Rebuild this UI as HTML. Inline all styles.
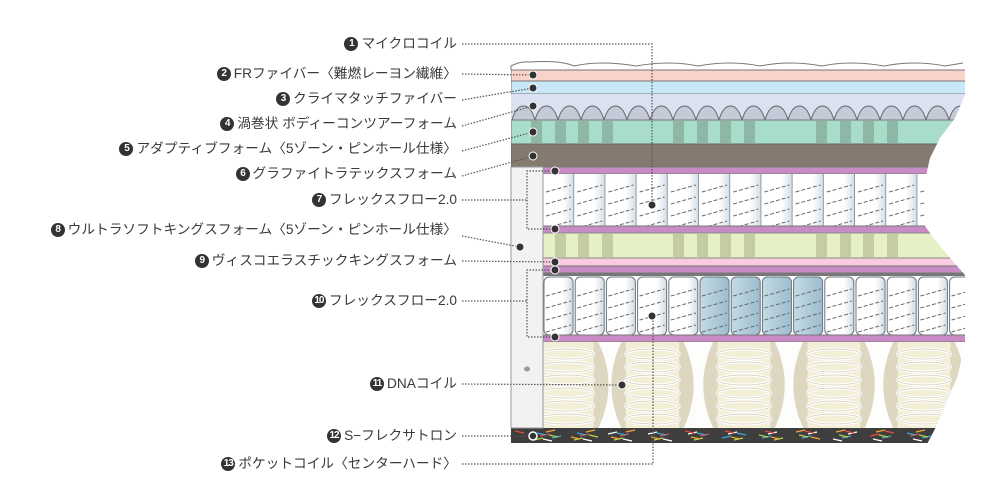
<!DOCTYPE html>
<html><head><meta charset="utf-8"><style>
html,body{margin:0;padding:0;background:#fff;}
body{width:1000px;height:500px;overflow:hidden;position:relative;font-family:"Liberation Sans","Noto Sans CJK JP",sans-serif;}
.l{position:absolute;right:543px;font-size:13.7px;color:#3a3a3a;white-space:nowrap;height:16px;line-height:16px;display:flex;align-items:center;}
.n{display:inline-block;width:14px;height:14px;border-radius:50%;background:#333;color:#fff;font-size:10px;line-height:14px;text-align:center;font-weight:bold;margin-right:3px;letter-spacing:-1px;flex:none;}
svg{position:absolute;left:0;top:0;}
</style></head><body>
<svg id="s" width="1000" height="500" viewBox="0 0 1000 500"></svg>
<div class="l" style="top:36px"><span class="n">1</span>マイクロコイル</div>
<div class="l" style="top:66px"><span class="n">2</span>FRファイバー〈難燃レーヨン繊維〉</div>
<div class="l" style="top:91px"><span class="n">3</span>クライマタッチファイバー</div>
<div class="l" style="top:116px"><span class="n">4</span>渦巻状 ボディーコンツアーフォーム</div>
<div class="l" style="top:141px"><span class="n">5</span>アダプティブフォーム〈5ゾーン・ピンホール仕様〉</div>
<div class="l" style="top:166px"><span class="n">6</span>グラファイトラテックスフォーム</div>
<div class="l" style="top:192px"><span class="n">7</span>フレックスフロー2.0</div>
<div class="l" style="top:222px"><span class="n">8</span>ウルトラソフトキングスフォーム〈5ゾーン・ピンホール仕様〉</div>
<div class="l" style="top:253px"><span class="n">9</span>ヴィスコエラスチックキングスフォーム</div>
<div class="l" style="top:293px"><span class="n">10</span>フレックスフロー2.0</div>
<div class="l" style="top:376px"><span class="n">11</span>DNAコイル</div>
<div class="l" style="top:428px"><span class="n">12</span>S−フレクサトロン</div>
<div class="l" style="top:456px"><span class="n">13</span>ポケットコイル〈センターハード〉</div>
<script>
var s=document.getElementById('s'),h='';
h+='<defs><clipPath id="c"><path d="M511,55 L965,55 L965,95 L955,118 L940,138 L930,158 L925,180 L925,226 L935,240 L950,258 L965,275 L965,345 L957,378 L945,405 L936,427 L926,446 L511,446 Z"/></clipPath>'+
'<linearGradient id="cg" x1="0" x2="1"><stop offset="0" stop-color="#fff"/><stop offset="0.65" stop-color="#fff"/><stop offset="1" stop-color="#d3dde4"/></linearGradient>'+
'<linearGradient id="bg" x1="0" x2="1"><stop offset="0" stop-color="#c4dbe6"/><stop offset="1" stop-color="#9dbccd"/></linearGradient></defs>';
h+='<g clip-path="url(#c)">';
function r(x,y,w,hh,f,st){h+='<rect x="'+x+'" y="'+y+'" width="'+w+'" height="'+hh+'" fill="'+f+'"'+(st?' stroke="'+st+'" stroke-width="1"':'')+'/>';}
r(511,70,460,11,'#f9d3ca','#777');
r(511,81,460,13,'#c9e8f7','#777');
r(511,94,460,26,'#dbe1f1');
for(var i=0;i<20;i++){var x=512+i*23;h+='<path d="M'+x+',120 Q'+(x+4)+',106 '+(x+11.5)+',106 Q'+(x+19)+',106 '+(x+23)+',120 Z" fill="#c5cad8" stroke="#666" stroke-width="1"/>';}
r(511,120,460,24,'#a8dccb','#777');
var pins=[531,555,578,602,673,697,720,744,816,840,863,887];
pins.forEach(function(p){r(p,121,11,22,'#8fb7a6');});
r(511,144,460,23,'#857a70','#666');
r(511,167,460,7,'#c98bc6','#777');
r(511,174,460,52,'#fff');
for(var i=0;i<14;i++){var x=543+i*31.2;r(x,174,31,52,'url(#cg)');h+='<line x1="'+(x+31)+'" y1="174" x2="'+(x+31)+'" y2="226" stroke="#8a97a0" stroke-width="1.5"/>';
for(var k=0;k<4;k++){var y=186+k*12;h+='<path d="M'+(x+3)+','+(y+6)+' L'+(x+28)+','+(y-1)+'" stroke="#666" stroke-width="1" stroke-dasharray="4,2" fill="none"/>';}}
r(511,226,460,7,'#c98bc6','#777');
r(511,233,460,25,'#e6f0c6','#888');
pins.forEach(function(p){r(p,234,11,23,'#c6cca2');});
r(511,258,460,8,'#f8cbe0','#888');
r(511,266,460,7,'#c98bc6','#777');
r(511,273,460,3,'#777');
for(var i=0;i<15;i++){var x=543+i*31.2;var f=(i>=5&&i<=8)?'url(#bg)':'url(#cg)';h+='<rect x="'+(x+1)+'" y="277" width="29" height="58" rx="5" fill="'+f+'" stroke="#6a747c" stroke-width="1"/>';
for(var k=0;k<4;k++){var y=290+k*12;h+='<path d="M'+(x+3)+','+(y+6)+' L'+(x+28)+','+(y-1)+'" stroke="#666" stroke-width="1" stroke-dasharray="4,2" fill="none"/>';}}
r(511,335,460,7,'#c98bc6','#777');
r(511,342,460,86,'#fdfdfb');
[[520,612],[608,697],[700,788],[790,878],[880,968]].forEach(function(a){var cx=(a[0]+a[1])/2,w=(a[1]-a[0])/2;
h+='<path d="M'+(cx-w*0.7)+',342 Q'+(cx-w*1.15)+',385 '+(cx-w*0.7)+',428 L'+(cx+w*0.7)+',428 Q'+(cx+w*1.15)+',385 '+(cx+w*0.7)+',342 Z" fill="#ddd6c0"/>';
h+='<rect x="'+(cx-w*0.6)+'" y="342" width="'+(w*1.2)+'" height="86" fill="#f3eed6"/>';
for(var k=0;k<6;k++){var y=354+k*13;h+='<ellipse cx="'+cx+'" cy="'+y+'" rx="'+(w*0.6)+'" ry="5" fill="none" stroke="#fff" stroke-width="3"/><ellipse cx="'+cx+'" cy="'+y+'" rx="'+(w*0.6)+'" ry="5" fill="none" stroke="#cfc8b0" stroke-width="0.7"/>';}});
r(511,428,460,15,'#3e3e3e');
var cols=['#e84a3a','#3aa7e0','#b4d44a','#f3a23a','#fff'];
for(var i=0;i<70;i++){var x=515+(i*37%410),y=431+(i*7%10),c=cols[i%5];h+='<line x1="'+x+'" y1="'+y+'" x2="'+(x+9)+'" y2="'+(y+((i%2)?-2:2))+'" stroke="'+c+'" stroke-width="1.3"/>';}
h+='</g>';
h+='<path d="M511,70 L511,66 Q520,61 530,62 Q560,60 574,66 Q600,60 636,66 Q670,60 698,66 Q730,60 760,66 Q790,60 822,66 Q850,60 884,66 Q915,60 945,66 L963,63" fill="none" stroke="#777" stroke-width="1"/>';
h+='<rect x="511" y="167" width="32" height="261" fill="#f2f2f2" stroke="#999" stroke-width="1"/>';
h+='<ellipse cx="527" cy="369" rx="3" ry="2.5" fill="#999"/>';
var d='stroke="#555" stroke-width="1.2" stroke-dasharray="1.5,1.5" fill="none"';
function L(p){h+='<polyline points="'+p+'" '+d+'/>';}
L('462,44 652,44 652,205');L('462,74 533,75');L('462,100 533,88');L('462,126 533,106');L('462,151 533,132');L('462,176 533,156');
L('462,200 527,200');L('555,171 527,171 527,229 555,229');L('462,236 520,247');L('462,261 555,262');
L('462,301 527,301');L('555,270 527,270 527,337 555,337');L('462,384 622,385');L('462,436 533,436');L('462,464 653,464 653,316');
function D(x,y){h+='<circle cx="'+x+'" cy="'+y+'" r="4" fill="#333" stroke="#fff" stroke-width="1"/>';}
[[652,205],[533,75],[533,88],[533,106],[533,132],[533,156],[555,171],[555,229],[520,247],[555,262],[555,270],[555,337],[622,385],[652,316]].forEach(function(p){D(p[0],p[1]);});
h+='<circle cx="533" cy="436" r="4" fill="#333" stroke="#fff" stroke-width="1.5"/>';
s.innerHTML=h;
</script>
</body></html>
